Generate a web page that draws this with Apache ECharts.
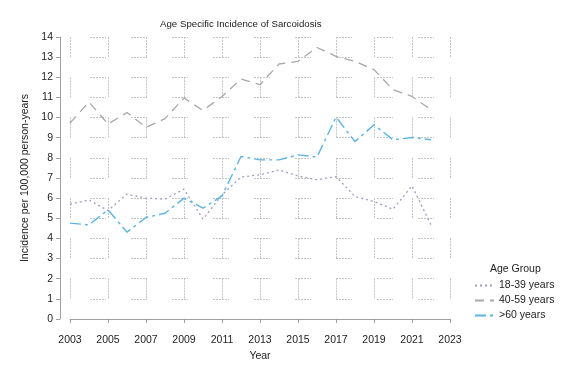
<!DOCTYPE html>
<html>
<head>
<meta charset="utf-8">
<script src="https://cdn.jsdelivr.net/npm/echarts@6/dist/echarts.min.js"></script>
<style>html,body{margin:0;padding:0;background:#fff}#c{width:576px;height:384px}</style>
</head>
<body>
<div id="c"></div>
<script>
const years = ['2003','2004','2005','2006','2007','2008','2009','2010','2011','2012','2013','2014','2015','2016','2017','2018','2019','2020','2021','2022','2023'];
const age18to39 = [5.7, 5.91, 5.38, 6.2, 6.0, 5.95, 6.45, 4.96, 6.16, 7.05, 7.16, 7.4, 7.1, 6.91, 7.07, 6.08, 5.83, 5.45, 6.61, 4.67];
const age40to59 = [9.73, 10.77, 9.68, 10.25, 9.51, 9.95, 10.97, 10.35, 11.05, 11.91, 11.63, 12.66, 12.79, 13.48, 13.04, 12.79, 12.38, 11.38, 11.05, 10.39];
const age60plus = [4.76, 4.67, 5.42, 4.31, 5.04, 5.25, 6.0, 5.5, 6.11, 8.07, 7.9, 7.9, 8.15, 8.04, 10.02, 8.81, 9.64, 8.9, 9.01, 8.9];
const seriesNames = ['18-39 years', '40-59 years', '>60 years'];

const font = 'Liberation Sans, Arial, sans-serif';
const vDash = [2,1,2,1,2,1,2,1,2,1,2,1,2,20.24];
const hDash = [2,1,2,1,2,1,2,1,2,1,1,25];
const chart = echarts.init(document.getElementById('c'), null, {renderer: 'canvas'});
chart.setOption({
  animation: false,
  backgroundColor: '#ffffff',
  title: [
    {text: 'Age Specific Incidence of Sarcoidosis', left: 155, top: 14,
     textStyle: {fontFamily: font, fontSize: 9.7, fontWeight: 'normal', color: '#222'}},
    {text: 'Age Group', left: 485, top: 259,
     textStyle: {fontFamily: font, fontSize: 10.5, fontWeight: 'normal', color: '#222'}}
  ],
  legend: {
    orient: 'vertical', left: 469, top: 275,
    itemWidth: 19, itemHeight: 12, itemGap: 4,
    data: seriesNames,
    itemStyle: {opacity: 0},
    textStyle: {fontFamily: font, fontSize: 10.5, color: '#222'}
  },
  grid: {left: 70, right: 126, top: 37, bottom: 65, containLabel: false},
  xAxis: {
    type: 'category', data: years, boundaryGap: false, offset: 9,
    name: 'Year', nameLocation: 'middle', nameGap: 21,
    nameTextStyle: {fontFamily: font, fontSize: 10.5, color: '#222'},
    axisLine: {lineStyle: {color: '#a0a0a0', width: 1}},
    axisTick: {interval: 1, length: 4, lineStyle: {color: '#a0a0a0'}},
    axisLabel: {interval: 1, margin: 7, fontFamily: font, fontSize: 10.5, color: '#222'},
    splitLine: {show: true, interval: 1, lineStyle: {color: '#c4c4c4', width: 1, type: vDash, dashOffset: 0}}
  },
  yAxis: {
    type: 'value', min: 0, max: 14, interval: 1, offset: 10,
    name: 'Incidence per 100,000 person-years', nameLocation: 'middle', nameGap: 28,
    nameTextStyle: {fontFamily: font, fontSize: 10.5, color: '#222'},
    axisLine: {show: true, lineStyle: {color: '#a0a0a0', width: 1}},
    axisTick: {show: true, length: 4, lineStyle: {color: '#a0a0a0'}},
    axisLabel: {margin: 7, fontFamily: font, fontSize: 10.5, color: '#222'},
    splitLine: {show: true, lineStyle: {color: '#c4c4c4', width: 1, type: hDash, dashOffset: 21}}
  },
  series: [
    {name: seriesNames[0], type: 'line', data: age18to39, symbol: 'none', showSymbol: false,
     lineStyle: {color: '#a09cc4', width: 1.3, type: [2, 3]}, itemStyle: {color: '#a09cc4'}},
    {name: seriesNames[1], type: 'line', data: age40to59, symbol: 'none', showSymbol: false,
     lineStyle: {color: '#a8a8a8', width: 1.3, type: [9, 6]}, itemStyle: {color: '#a8a8a8'}},
    {name: seriesNames[2], type: 'line', data: age60plus, symbol: 'none', showSymbol: false,
     lineStyle: {color: '#5ab4e4', width: 1.4, type: [11, 4, 3, 4]}, itemStyle: {color: '#5ab4e4'}}
  ]
});
</script>
</body>
</html>
